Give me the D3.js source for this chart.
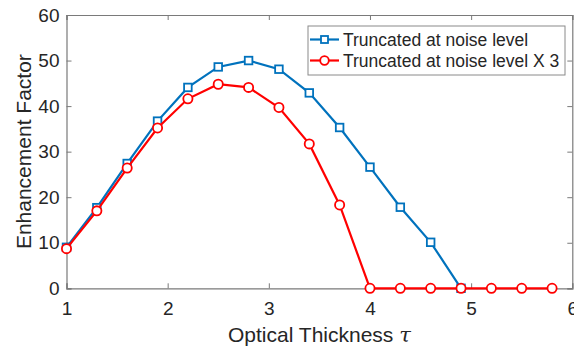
<!DOCTYPE html>
<html>
<head>
<meta charset="utf-8">
<script src="https://cdn.jsdelivr.net/npm/d3@7"></script>
<style>
  body { margin: 0; background: #fff; }
  text { font-family: "Liberation Sans", Arial, sans-serif; fill: #262626; }
</style>
</head>
<body>
<svg id="chart"></svg>
<script>
// data
var tauBlue = [1, 1.3, 1.6, 1.9, 2.2, 2.5, 2.8, 3.1, 3.4, 3.7, 4.0, 4.3, 4.6, 4.9];
var factorBlue = [9, 17.7, 27.4, 36.7, 44.1, 48.6, 50, 48.1, 42.9, 35.3, 26.6, 17.8, 10.1, 0];
var tauRed = [1, 1.3, 1.6, 1.9, 2.2, 2.5, 2.8, 3.1, 3.4, 3.7, 4.0, 4.3, 4.6, 4.9, 5.2, 5.5, 5.8];
var factorRed = [8.7, 17, 26.4, 35.2, 41.6, 44.8, 44.1, 39.7, 31.7, 18.3, 0, 0, 0, 0, 0, 0, 0];
var xTicks = [1, 2, 3, 4, 5, 6];
var yTicks = [0, 10, 20, 30, 40, 50, 60];
var seriesNames = ["Truncated at noise level", "Truncated at noise level X 3"];

var width = 574, height = 347;
var margin = {left: 66.5, right: 1.7, top: 15, bottom: 58.7};

var svg = d3.select("#chart").attr("width", width).attr("height", height);

var x = d3.scaleLinear().domain([1, 6]).range([margin.left, width - margin.right]);
var y = d3.scaleLinear().domain([0, 60]).range([height - margin.bottom, margin.top]);

var axisColor = "#7a7a7a";

// axes with inward ticks, box on
var gx = svg.append("g").attr("transform", "translate(0," + y(0) + ")")
  .call(d3.axisBottom(x).tickValues(xTicks).tickSize(-5).tickPadding(13).tickFormat(d3.format("d")));
var gxTop = svg.append("g").attr("transform", "translate(0," + y(60) + ")")
  .call(d3.axisTop(x).tickValues(xTicks).tickSize(-5).tickFormat(""));
var gy = svg.append("g").attr("transform", "translate(" + x(1) + ",0)")
  .call(d3.axisLeft(y).tickValues(yTicks).tickSize(-5).tickPadding(7).tickFormat(d3.format("d")));
var gyRight = svg.append("g").attr("transform", "translate(" + x(6) + ",0)")
  .call(d3.axisRight(y).tickValues(yTicks).tickSize(-5).tickFormat(""));

[gx, gxTop, gy, gyRight].forEach(function(g) {
  g.select(".domain").attr("stroke", axisColor).attr("stroke-width", 1.2);
  g.selectAll(".tick line").attr("stroke", axisColor);
  g.selectAll(".tick text").style("font-size", "19px").attr("fill", "#262626");
});

// series
var line = d3.line().x(function(d) { return x(d[0]); }).y(function(d) { return y(d[1]); });

var blueData = d3.zip(tauBlue, factorBlue);
var redData = d3.zip(tauRed, factorRed);

svg.append("path").datum(blueData).attr("d", line)
  .attr("fill", "none").attr("stroke", "#0072BD").attr("stroke-width", 2.2);
svg.selectAll(".sq").data(blueData).enter().append("rect")
  .attr("class", "sq")
  .attr("x", function(d) { return x(d[0]) - 3.8; })
  .attr("y", function(d) { return y(d[1]) - 3.8; })
  .attr("width", 7.6).attr("height", 7.6)
  .attr("fill", "#fff").attr("stroke", "#0072BD").attr("stroke-width", 1.8);

svg.append("path").datum(redData).attr("d", line)
  .attr("fill", "none").attr("stroke", "#FF0000").attr("stroke-width", 2.2);
svg.selectAll(".circ").data(redData).enter().append("circle")
  .attr("class", "circ")
  .attr("cx", function(d) { return x(d[0]); })
  .attr("cy", function(d) { return y(d[1]); })
  .attr("r", 4.6)
  .attr("fill", "#fff").attr("stroke", "#FF0000").attr("stroke-width", 1.8);

// axis labels
svg.append("text")
  .attr("x", (x(1) + x(6)) / 2).attr("y", 342)
  .attr("text-anchor", "middle").style("font-size", "21px")
  .text("Optical Thickness ")
  .append("tspan").style("font-family", "'DejaVu Serif', serif").style("font-style", "italic").text("\u03C4");

svg.append("text")
  .attr("transform", "translate(30.5," + ((y(0) + y(60)) / 2) + ") rotate(-90)")
  .attr("text-anchor", "middle").style("font-size", "21px")
  .text("Enhancement Factor");

// legend
var legend = svg.append("g");
legend.append("rect")
  .attr("x", 308).attr("y", 26).attr("width", 257).attr("height", 49)
  .attr("fill", "#fff").attr("stroke", "#8a8a8a").attr("stroke-width", 1);

var rows = legend.selectAll(".row").data(seriesNames).enter().append("g")
  .attr("transform", function(d, i) { return "translate(0," + (39.5 + i * 21) + ")"; });
rows.append("line").attr("x1", 310).attr("x2", 339).attr("y1", 0).attr("y2", 0)
  .attr("stroke", function(d, i) { return i === 0 ? "#0072BD" : "#FF0000"; })
  .attr("stroke-width", 2.2);
rows.each(function(d, i) {
  var g = d3.select(this);
  if (i === 0) {
    g.append("rect").attr("x", 321).attr("y", -3.5).attr("width", 7).attr("height", 7)
      .attr("fill", "#fff").attr("stroke", "#0072BD").attr("stroke-width", 1.8);
  } else {
    g.append("circle").attr("cx", 324.5).attr("cy", 0).attr("r", 4.3)
      .attr("fill", "#fff").attr("stroke", "#FF0000").attr("stroke-width", 1.8);
  }
});
rows.append("text").attr("x", 343).attr("y", 6.2).style("font-size", "17.5px")
  .attr("fill", "#000").text(function(d) { return d; });
</script>
</body>
</html>
